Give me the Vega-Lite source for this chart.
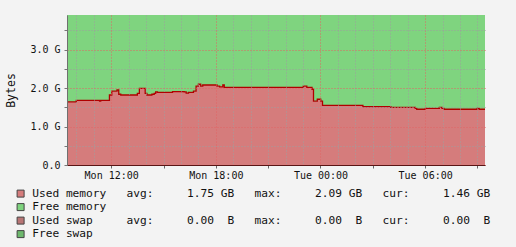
{
  "$schema": "https://vega.github.io/schema/vega-lite/v6.json",
  "width": 418,
  "height": 150,
  "autosize": {"type": "none"},
  "padding": {"left": 67, "top": 15, "right": 31, "bottom": 82},
  "background": "#F3F3F3",
  "config": {
    "view": {"stroke": null},
    "font": "DejaVu Sans Mono"
  },
  "data": {
    "values": [
      {"t": "2024-01-15T09:28:00", "used": 1.64, "free": 2.26},
      {"t": "2024-01-15T10:00:00", "used": 1.68, "free": 2.22},
      {"t": "2024-01-15T11:20:00", "used": 1.66, "free": 2.24},
      {"t": "2024-01-15T11:24:00", "used": 1.68, "free": 2.22},
      {"t": "2024-01-15T11:54:00", "used": 1.82, "free": 2.08},
      {"t": "2024-01-15T12:02:00", "used": 1.92, "free": 1.98},
      {"t": "2024-01-15T12:20:00", "used": 1.95, "free": 1.95},
      {"t": "2024-01-15T12:26:00", "used": 1.84, "free": 2.06},
      {"t": "2024-01-15T12:33:00", "used": 1.82, "free": 2.08},
      {"t": "2024-01-15T13:30:00", "used": 1.86, "free": 2.04},
      {"t": "2024-01-15T13:37:00", "used": 1.99, "free": 1.91},
      {"t": "2024-01-15T13:57:00", "used": 1.86, "free": 2.04},
      {"t": "2024-01-15T14:03:00", "used": 1.82, "free": 2.08},
      {"t": "2024-01-15T14:20:00", "used": 1.84, "free": 2.06},
      {"t": "2024-01-15T14:28:00", "used": 1.86, "free": 2.04},
      {"t": "2024-01-15T14:33:00", "used": 1.90, "free": 2.00},
      {"t": "2024-01-15T14:39:00", "used": 1.89, "free": 2.01},
      {"t": "2024-01-15T15:31:00", "used": 1.91, "free": 1.99},
      {"t": "2024-01-15T16:11:00", "used": 1.90, "free": 2.00},
      {"t": "2024-01-15T16:18:00", "used": 1.87, "free": 2.03},
      {"t": "2024-01-15T16:26:00", "used": 1.89, "free": 2.01},
      {"t": "2024-01-15T16:43:00", "used": 1.92, "free": 1.98},
      {"t": "2024-01-15T16:52:00", "used": 2.05, "free": 1.85},
      {"t": "2024-01-15T17:00:00", "used": 2.10, "free": 1.80},
      {"t": "2024-01-15T17:08:00", "used": 2.05, "free": 1.85},
      {"t": "2024-01-15T17:15:00", "used": 2.08, "free": 1.82},
      {"t": "2024-01-15T18:04:00", "used": 2.05, "free": 1.85},
      {"t": "2024-01-15T18:13:00", "used": 2.03, "free": 1.87},
      {"t": "2024-01-15T18:24:00", "used": 2.08, "free": 1.82},
      {"t": "2024-01-15T18:29:00", "used": 2.02, "free": 1.88},
      {"t": "2024-01-15T23:01:00", "used": 2.05, "free": 1.85},
      {"t": "2024-01-15T23:13:00", "used": 2.02, "free": 1.88},
      {"t": "2024-01-15T23:31:00", "used": 1.97, "free": 1.93},
      {"t": "2024-01-15T23:36:00", "used": 1.66, "free": 2.24},
      {"t": "2024-01-15T23:49:00", "used": 1.71, "free": 2.19},
      {"t": "2024-01-16T00:01:00", "used": 1.66, "free": 2.24},
      {"t": "2024-01-16T00:07:00", "used": 1.55, "free": 2.35},
      {"t": "2024-01-16T02:26:00", "used": 1.52, "free": 2.38},
      {"t": "2024-01-16T04:02:00", "used": 1.50, "free": 2.40},
      {"t": "2024-01-16T05:26:00", "used": 1.47, "free": 2.43},
      {"t": "2024-01-16T05:31:00", "used": 1.45, "free": 2.45},
      {"t": "2024-01-16T06:01:00", "used": 1.47, "free": 2.43},
      {"t": "2024-01-16T06:49:00", "used": 1.50, "free": 2.40},
      {"t": "2024-01-16T06:58:00", "used": 1.47, "free": 2.43},
      {"t": "2024-01-16T07:05:00", "used": 1.45, "free": 2.45},
      {"t": "2024-01-16T08:59:00", "used": 1.47, "free": 2.43},
      {"t": "2024-01-16T09:06:00", "used": 1.45, "free": 2.45},
      {"t": "2024-01-16T09:26:00", "used": 1.45, "free": 2.45}
    ]
  },
  "encoding": {
    "x": {
      "field": "t",
      "type": "temporal",
      "scale": {
        "domain": [
          {"year": 2024, "month": 1, "date": 15, "hours": 9, "minutes": 28},
          {"year": 2024, "month": 1, "date": 16, "hours": 9, "minutes": 26}
        ],
        "nice": false
      },
      "axis": {
        "title": null,
        "zindex": 1,
        "values": [
          {"year": 2024, "month": 1, "date": 15, "hours": 10},
          {"year": 2024, "month": 1, "date": 15, "hours": 11},
          {"year": 2024, "month": 1, "date": 15, "hours": 12},
          {"year": 2024, "month": 1, "date": 15, "hours": 13},
          {"year": 2024, "month": 1, "date": 15, "hours": 14},
          {"year": 2024, "month": 1, "date": 15, "hours": 15},
          {"year": 2024, "month": 1, "date": 15, "hours": 16},
          {"year": 2024, "month": 1, "date": 15, "hours": 17},
          {"year": 2024, "month": 1, "date": 15, "hours": 18},
          {"year": 2024, "month": 1, "date": 15, "hours": 19},
          {"year": 2024, "month": 1, "date": 15, "hours": 20},
          {"year": 2024, "month": 1, "date": 15, "hours": 21},
          {"year": 2024, "month": 1, "date": 15, "hours": 22},
          {"year": 2024, "month": 1, "date": 15, "hours": 23},
          {"year": 2024, "month": 1, "date": 16, "hours": 0},
          {"year": 2024, "month": 1, "date": 16, "hours": 1},
          {"year": 2024, "month": 1, "date": 16, "hours": 2},
          {"year": 2024, "month": 1, "date": 16, "hours": 3},
          {"year": 2024, "month": 1, "date": 16, "hours": 4},
          {"year": 2024, "month": 1, "date": 16, "hours": 5},
          {"year": 2024, "month": 1, "date": 16, "hours": 6},
          {"year": 2024, "month": 1, "date": 16, "hours": 7},
          {"year": 2024, "month": 1, "date": 16, "hours": 8},
          {"year": 2024, "month": 1, "date": 16, "hours": 9}
        ],
        "labelExpr": "hours(datum.value) % 6 == 0 ? timeFormat(datum.value, '%a %H:%M') : ''",
        "labelFont": "DejaVu Sans Mono",
        "labelFontSize": 10,
        "labelColor": "#111111",
        "labelPadding": 2,
        "labelOverlap": false,
        "labelFlush": false,
        "labelBound": false,
        "tickSize": 3,
        "tickColor": "#666666",
        "tickOpacity": {"condition": {"test": "hours(datum.value) % 3 == 0", "value": 1}, "value": 0},
        "domainColor": "#5A1515",
        "domainWidth": 1,
        "grid": true,
        "gridColor": {"condition": {"test": "hours(datum.value) % 6 == 0", "value": "#E06464"}, "value": "#9E9E9E"},
        "gridDash": [1, 2],
        "gridWidth": 1
      }
    }
  },
  "layer": [
    {
      "transform": [
        {"fold": ["used", "free"], "as": ["key", "value"]}
      ],
      "mark": {"type": "area", "interpolate": "step-after"},
      "encoding": {
        "y": {
          "field": "value",
          "type": "quantitative",
          "stack": "zero",
          "scale": {"domain": [0, 3.9], "nice": false, "zero": true},
          "axis": {
            "title": "Bytes",
            "titleFont": "DejaVu Sans Mono",
            "titleFontSize": 11.5,
            "titleFontWeight": "normal",
            "titleColor": "#111111",
            "titleAngle": 270,
            "titleAlign": "center",
            "titleBaseline": "middle",
            "titleX": -56,
            "titleY": 75,
            "zindex": 1,
            "values": [0, 0.5, 1, 1.5, 2, 2.5, 3, 3.5],
            "labelExpr": "datum.value % 1 == 0 ? (datum.value == 0 ? '0.0\u00a0\u00a0' : format(datum.value, '.1f') + ' G') : ''",
            "labelFont": "DejaVu Sans Mono",
            "labelFontSize": 10,
            "labelColor": "#111111",
            "labelPadding": 4,
            "labelOverlap": false,
            "labelBound": false,
            "labelFlush": false,
            "tickSize": 3,
            "tickColor": "#777777",
            "domainColor": "#707070",
            "grid": true,
            "gridColor": {"condition": {"test": "datum.value % 1 == 0", "value": "#E06464"}, "value": "#9E9E9E"},
            "gridDash": [1, 2]
          }
        },
        "color": {
          "field": "key",
          "type": "nominal",
          "scale": {
            "domain": ["used", "free", "usedswap", "freeswap"],
            "range": ["#D57C7C", "#7FD47F", "#B87575", "#6DB86D"]
          },
          "legend": {
            "title": null,
            "orient": "none",
            "legendX": -52,
            "legendY": 173,
            "direction": "vertical",
            "symbolType": "square",
            "symbolSize": 49,
            "symbolStrokeColor": "#444444",
            "symbolStrokeWidth": 1,
            "symbolOpacity": 1,
            "labelFont": "DejaVu Sans Mono",
            "labelFontSize": 11.2,
            "labelColor": "#111111",
            "labelOffset": 6,
            "labelLimit": 0,
            "rowPadding": 0.5,
            "labelExpr": "datum.label == 'used' ? 'Used memory\u00a0\u00a0\u00a0avg:\u00a0\u00a0\u00a0\u00a0\u00a01.75 GB\u00a0\u00a0\u00a0max:\u00a0\u00a0\u00a0\u00a0\u00a02.09 GB\u00a0\u00a0\u00a0cur:\u00a0\u00a0\u00a0\u00a0\u00a01.46 GB' : datum.label == 'free' ? 'Free memory' : datum.label == 'usedswap' ? 'Used swap\u00a0\u00a0\u00a0\u00a0\u00a0avg:\u00a0\u00a0\u00a0\u00a0\u00a00.00\u00a0\u00a0B\u00a0\u00a0\u00a0max:\u00a0\u00a0\u00a0\u00a0\u00a00.00\u00a0\u00a0B\u00a0\u00a0\u00a0cur:\u00a0\u00a0\u00a0\u00a0\u00a00.00\u00a0\u00a0B' : 'Free swap'"
          }
        },
        "order": {"field": "key", "sort": "descending"}
      }
    },
    {
      "mark": {"type": "line", "interpolate": "step-after", "color": "#B00000", "strokeWidth": 1.3},
      "encoding": {
        "y": {
          "field": "used",
          "type": "quantitative",
          "axis": {
            "title": "Bytes",
            "titleFont": "DejaVu Sans Mono",
            "titleFontSize": 11.5,
            "titleFontWeight": "normal",
            "titleColor": "#111111",
            "titleAngle": 270,
            "titleAlign": "center",
            "titleBaseline": "middle",
            "titleX": -56,
            "titleY": 75,
            "zindex": 1,
            "values": [0, 0.5, 1, 1.5, 2, 2.5, 3, 3.5],
            "labelExpr": "datum.value % 1 == 0 ? (datum.value == 0 ? '0.0\u00a0\u00a0' : format(datum.value, '.1f') + ' G') : ''",
            "labelFont": "DejaVu Sans Mono",
            "labelFontSize": 10,
            "labelColor": "#111111",
            "labelPadding": 4,
            "labelOverlap": false,
            "labelBound": false,
            "labelFlush": false,
            "tickSize": 3,
            "tickColor": "#777777",
            "domainColor": "#707070",
            "grid": true,
            "gridColor": {"condition": {"test": "datum.value % 1 == 0", "value": "#E06464"}, "value": "#9E9E9E"},
            "gridDash": [1, 2]
          }
        }
      }
    }
  ]
}
